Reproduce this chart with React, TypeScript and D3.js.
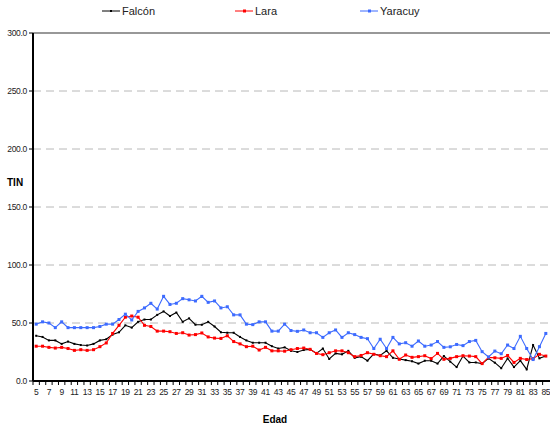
import React from "react";
import * as d3 from "d3";

const ages: number[] = d3.range(5, 86);

const falcon: number[] = [
  39, 38, 35, 35, 32, 34, 32, 31, 30.6, 32, 35, 36, 40, 42, 48, 46, 51, 53, 53, 57,
  60, 56, 59, 51, 54, 48.5, 48.5, 51, 47, 42, 41.6, 41.6, 38, 35, 33, 33, 33, 30, 28, 29,
  26, 25, 26.7, 27.3, 23.8, 28, 19, 23.8, 23, 26, 20, 21, 17.5, 23.3, 22, 26, 20, 19, 18, 17,
  15, 17.5, 17.5, 15, 21.5, 16.7, 12, 21.5, 16, 16, 15, 19.5, 15.8, 11, 19.5, 12, 17.5, 10, 31, 19.5,
  21.5,
];

const lara: number[] = [
  30, 30, 29, 28.4, 29, 28, 26.4, 27, 26.4, 27, 29.6, 32.8, 41, 48, 55, 56, 55, 48, 47, 43,
  43, 42.5, 41, 41.6, 39.6, 40, 41.4, 38, 37, 36.7, 39, 34, 32, 29.6, 30, 26.7, 29, 26, 26, 25.7,
  27, 28, 28.4, 27.3, 23.8, 22.7, 24.4, 26, 26, 24.4, 21, 22, 24.4, 23, 21.8, 21, 26, 18.7, 22.4, 20.4,
  21, 21.8, 19.3, 23.8, 18.7, 19.5, 21, 21.8, 21.5, 21, 15, 20.4, 20, 19.5, 22, 16, 19.5, 18.5, 19.3, 23,
  21.5,
];

const yaracuy: number[] = [
  49, 51, 50, 46, 51, 46, 46, 46, 46, 46, 47, 49, 49, 53, 57.6, 52.6, 60, 63, 67, 62,
  73, 66, 67, 71, 70, 69, 73, 67.8, 69, 63, 64, 57, 57, 49, 48.6, 51, 51, 43, 43, 49,
  43.5, 42.8, 44, 41.6, 41.6, 37.6, 41.6, 44, 37.6, 41.6, 40, 37.6, 36.5, 28, 36, 28, 37.6, 32, 33, 30,
  34.5, 30, 31, 34, 29, 29.5, 31.5, 30.5, 34, 35, 25.3, 20.7, 25.8, 23.5, 31, 28, 38.5, 28, 18.5, 29.6,
  41,
];

const yTicks: number[] = [0, 50, 100, 150, 200, 250, 300];
const seriesNames: string[] = ["Falcón", "Lara", "Yaracuy"];
const seriesColors: string[] = ["#000000", "#ff0000", "#3d6bff"];
const seriesData: number[][] = [falcon, lara, yaracuy];

const FONT = "'Liberation Sans', Arial, sans-serif";

export default function App() {
  const W = 550;
  const H = 430;
  const left = 33;
  const right = 549;
  const top = 33;
  const bottom = 381;

  const x = d3.scaleBand<number>().domain(ages).range([left, right]).padding(0);
  const y = d3.scaleLinear().domain([0, 300]).range([bottom, top]);
  const cx = (a: number) => (x(a) as number) + x.bandwidth() / 2;

  const line = d3
    .line<number>()
    .x((_, i) => cx(ages[i]))
    .y((d) => y(d));

  const legendX = [102, 235, 360];

  return (
    <svg
      width={W}
      height={H}
      style={{ position: "absolute", left: 0, top: 0, background: "#fff" }}
      fontFamily={FONT}
    >
      <rect x={0} y={0} width={W} height={H} fill="#fff" />
      {yTicks
        .filter((t) => t > 0 && t < 300)
        .map((t) => (
          <line
            key={"g" + t}
            x1={left}
            x2={right + 2}
            y1={y(t)}
            y2={y(t)}
            stroke="#b8b8b8"
            strokeWidth={1}
            strokeDasharray="8,5"
          />
        ))}
      <line x1={left} x2={W} y1={y(300)} y2={y(300)} stroke="#333" strokeWidth={1.2} />

      {seriesData.map((data, si) => (
        <g key={"s" + si}>
          <path d={line(data) || ""} fill="none" stroke={seriesColors[si]} strokeWidth={1.1} />
          {data.map((v, i) =>
            si === 0 ? (
              <rect
                key={i}
                x={cx(ages[i]) - 1}
                y={y(v) - 1}
                width={2}
                height={2}
                fill={seriesColors[si]}
              />
            ) : (
              <rect
                key={i}
                x={cx(ages[i]) - 1.5}
                y={y(v) - 1.5}
                width={3}
                height={3}
                fill={seriesColors[si]}
              />
            )
          )}
        </g>
      ))}

      <line x1={left} x2={left} y1={top} y2={bottom} stroke="#000" strokeWidth={2} />
      {yTicks.map((t) => (
        <g key={"yt" + t}>
          <line x1={left - 4} x2={left} y1={y(t)} y2={y(t)} stroke="#000" strokeWidth={1} />
          <text
            x={left - 6}
            y={y(t)}
            dy="0.35em"
            textAnchor="end"
            fontSize={8.5}
            letterSpacing={-0.3}
            fill="#222"
          >
            {t.toFixed(1)}
          </text>
        </g>
      ))}

      <line x1={left} x2={W} y1={bottom} y2={bottom} stroke="#000" strokeWidth={2} />
      {ages.map((a) => (
        <line
          key={"xt" + a}
          x1={x(a) as number}
          x2={x(a) as number}
          y1={bottom}
          y2={bottom + 4}
          stroke="#000"
          strokeWidth={1}
        />
      ))}
      {ages
        .filter((a) => a % 2 === 1)
        .map((a) => (
          <text
            key={"xl" + a}
            x={cx(a)}
            y={bottom + 14}
            textAnchor="middle"
            fontSize={8.5}
            letterSpacing={-0.3}
            fill="#222"
          >
            {a}
          </text>
        ))}

      <text x={7} y={186} fontSize={10} fontWeight="bold" fill="#000">
        TIN
      </text>
      <text x={275} y={423} fontSize={10} fontWeight="bold" textAnchor="middle" fill="#000">
        Edad
      </text>

      {seriesNames.map((n, i) => (
        <g key={"l" + i}>
          <line
            x1={legendX[i]}
            x2={legendX[i] + 18}
            y1={11}
            y2={11}
            stroke={seriesColors[i]}
            strokeWidth={1}
          />
          <rect
            x={legendX[i] + 8}
            y={i === 0 ? 10 : 9.5}
            width={i === 0 ? 2 : 3}
            height={i === 0 ? 2 : 3}
            fill={seriesColors[i]}
          />
          <text x={legendX[i] + 20} y={11} dy="0.35em" fontSize={11} fill="#222">
            {n}
          </text>
        </g>
      ))}
    </svg>
  );
}
